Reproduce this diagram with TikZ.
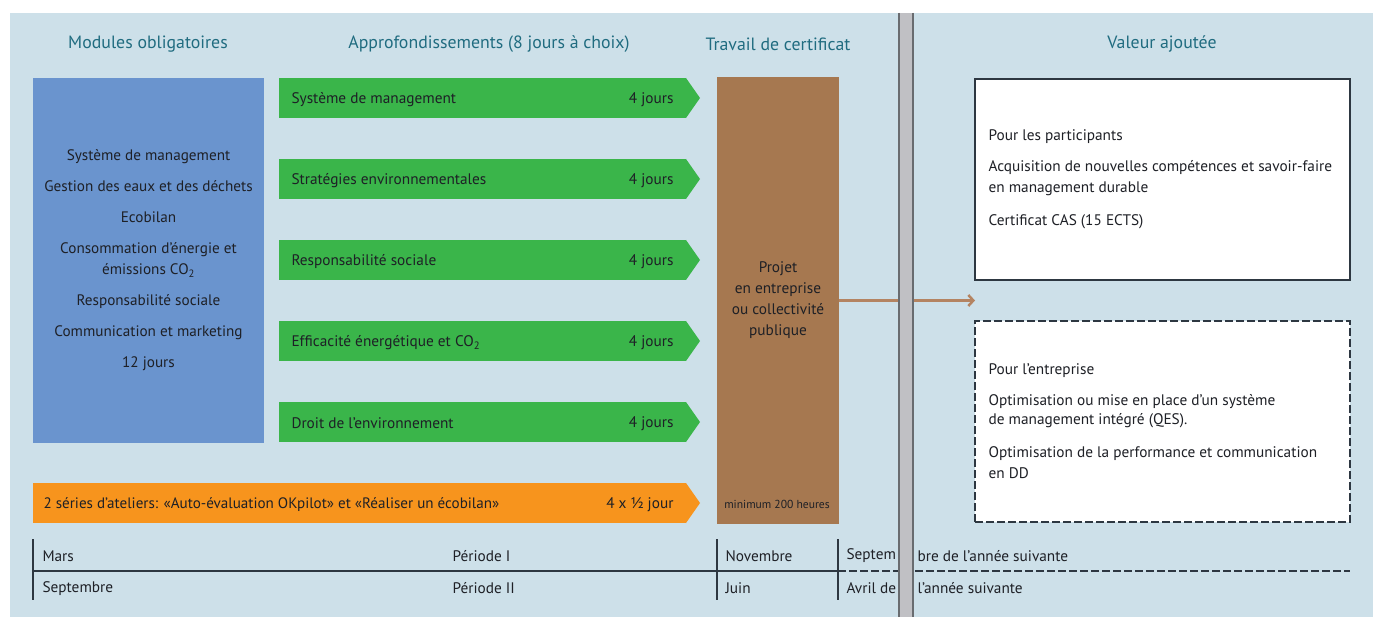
\documentclass[tikz,border=0pt]{standalone}
\usepackage{fontspec}
\setmainfont{PT Sans}
\usetikzlibrary{arrows.meta}
\definecolor{bg}{RGB}{205,224,233}
\definecolor{blueM}{RGB}{106,148,206}
\definecolor{greenA}{RGB}{58,181,74}
\definecolor{brownP}{RGB}{166,120,80}
\definecolor{orangeA}{RGB}{247,148,29}
\definecolor{headc}{RGB}{32,108,128}
\definecolor{txt}{RGB}{30,32,38}
\definecolor{divg}{RGB}{192,192,196}
\definecolor{dive}{RGB}{105,108,112}
\definecolor{linec}{RGB}{45,55,65}
\definecolor{arrc}{RGB}{180,132,98}
\tikzset{
  head/.style={text=headc, font=\fontsize{17.8}{20}\selectfont},
  fillbox/.style={inner sep=0pt, outer sep=0pt, anchor=north west},
  body/.style={text=txt, font=\fontsize{15.3}{21}\selectfont},
  bluebody/.style={text=txt, font=\fontsize{15.2}{31}\selectfont},
  small/.style={text=txt, font=\fontsize{11.6}{13}\selectfont},
  tl/.style={text=txt, font=\fontsize{15.3}{17}\selectfont, anchor=west},
  greenbody/.style={fillbox, fill=greenA, minimum width=407pt, minimum height=40pt},
  timeline/.style={draw=linec, line width=2pt},
}
\newcommand{\chev}[2]{\fill[#2] (#1.north east) -- ++(14pt,-20pt) -- (#1.south east) -- cycle;}
\begin{document}
\begin{tikzpicture}[x=1pt,y=-1pt]
\useasboundingbox (0,0) rectangle (1373,617);
\fill[white] (0,0) rectangle (1373,617);
\fill[bg] (10,13) rectangle (1373,617);

% headers
\node[head] (h1) at (148,44) {Modules obligatoires};
\node[head] (h2) at (489,44) {Approfondissements (8 jours à choix)};
\node[head] (h3) at (778,44) {Travail de certificat};
\node[head] (h4) at (1162,44) {Valeur ajoutée};

% blue box
\node[fillbox, fill=blueM, minimum width=231pt, minimum height=365pt] (blue) at (33,78) {};
\node[bluebody, align=center] (bluetxt) at (blue.center) {Système de management\\
Gestion des eaux et des déchets\\
Ecobilan\\
Consommation d'énergie et\\[-10pt]
émissions CO\textsubscript{2}\\
Responsabilité sociale\\
Communication et marketing\\
12 jours};

% green arrows
\node[greenbody] (g1) at (279,78) {};
\node[greenbody] (g2) at (279,159) {};
\node[greenbody] (g3) at (279,240) {};
\node[greenbody] (g4) at (279,321) {};
\node[greenbody] (g5) at (279,402) {};
\chev{g1}{greenA}\chev{g2}{greenA}\chev{g3}{greenA}\chev{g4}{greenA}\chev{g5}{greenA}
\node[body, anchor=west] (g1t) at ([xshift=9pt,yshift=-1.5pt]g1.west) {Système de management};
\node[body, anchor=west] (g2t) at ([xshift=9pt,yshift=-1.5pt]g2.west) {Stratégies environnementales};
\node[body, anchor=west] (g3t) at ([xshift=9pt,yshift=-1.5pt]g3.west) {Responsabilité sociale};
\node[body, anchor=west] (g4t) at ([xshift=9pt,yshift=-1.5pt]g4.west) {Efficacité énergétique et CO\textsubscript{2}};
\node[body, anchor=west] (g5t) at ([xshift=9pt,yshift=-1.5pt]g5.west) {Droit de l'environnement};
\foreach \g in {g1,g2,g3,g4,g5}{
  \node[body, anchor=east] (\g d) at ([xshift=-9pt,yshift=-1.5pt]\g.east) {4 jours};
}

% orange arrow
\node[fillbox, fill=orangeA, minimum width=653pt, minimum height=40pt] (orange) at (33,483) {};
\chev{orange}{orangeA}
\node[body, anchor=west, font=\fontsize{15.1}{17}\selectfont] (ot) at ([xshift=7pt,yshift=-1.5pt]orange.west) {2 séries d'ateliers: «Auto-évaluation OKpilot» et «Réaliser un écobilan»};
\node[body, anchor=east] (od) at ([xshift=-9pt,yshift=-1.5pt]orange.east) {4 x ½ jour};

% brown box
\node[fillbox, fill=brownP, minimum width=122pt, minimum height=447pt] (brown) at (717,77) {};
\node[body, align=center] (browntxt) at (brown.center) {Projet\\en entreprise\\ou collectivité\\publique};
\node[small] (min) at (777,504) {minimum 200 heures};

% right boxes
\node[fillbox, fill=white, draw=linec, line width=1.5pt, minimum width=375pt, minimum height=201pt] (vp) at (975,79) {};
\node[body, anchor=west, align=left] (vptxt) at ([xshift=10pt]vp.west) {Pour les participants\\[10pt]
Acquisition de nouvelles compétences et savoir-faire\\
en management durable\\[12pt]
Certificat CAS (15 ECTS)};
\node[fillbox, fill=white, draw=linec, line width=1.5pt, dash pattern=on 8pt off 3pt, minimum width=375pt, minimum height=201pt] (ve) at (975,321) {};
\node[body, anchor=west, align=left] (vetxt) at ([xshift=10pt]ve.west) {Pour l'entreprise\\[10pt]
Optimisation ou mise en place d'un système\\[-2pt]
de management intégré (QES).\\[12pt]
Optimisation de la performance et communication\\
en DD};

% connector
\coordinate (tip) at (vp.west |- brown.east);
\draw[arrc, line width=3pt, -{Straight Barb[length=5pt,width=11pt,line width=2.5pt]}] (brown.east) -- (tip);

% timeline
\coordinate (t0a) at (33,539); \coordinate (t0b) at (33,600);
\coordinate (t1a) at (717,539); \coordinate (t1b) at (717,600);
\coordinate (t2a) at (838,539); \coordinate (t2b) at (838,600);
\coordinate (hl) at (33,571); \coordinate (hm) at (838,571); \coordinate (hr) at (1350,571);
\draw[timeline] (t0a) -- (t0b);
\draw[timeline] (t1a) -- (t1b);
\draw[timeline] (t2a) -- (t2b);
\draw[timeline] (hl) -- (hm);
\draw[timeline, dash pattern=on 8pt off 3pt] (hm) -- (hr);
\node[tl] (r1a) at (39,556) {Mars};
\node[tl] (r1b) at (449,556) {Période I};
\node[tl] (r1c) at (722,556) {Novembre};
\node[tl] (r1d) at (843,556) {Septem};
\node[tl] (r1e) at (914,556) {bre de l'année suivante};
\node[tl] (r2a) at (39,588.5) {Septembre};
\node[tl] (r2b) at (449,588.5) {Période II};
\node[tl] (r2c) at (722,588.5) {Juin};
\node[tl] (r2d) at (843,588.5) {Avril de};
\node[tl] (r2e) at (914,588.5) {l'année suivante};

% divider
\fill[divg] (899,13) rectangle (913,617);
\draw[dive, line width=1.5pt] (899,13) -- (899,617) (913,13) -- (913,617);
\end{tikzpicture}
\end{document}
